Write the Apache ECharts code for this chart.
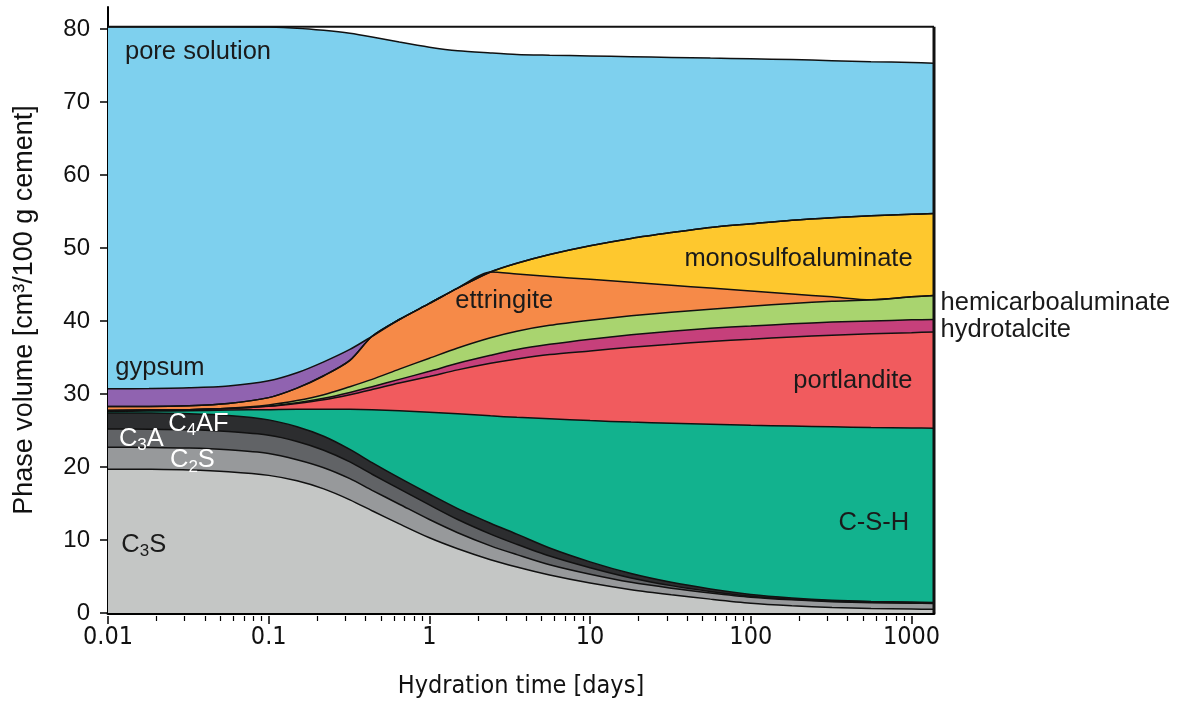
<!DOCTYPE html>
<html><head><meta charset="utf-8">
<script src="https://cdn.jsdelivr.net/npm/echarts@6/dist/echarts.min.js"></script>
<style>html,body{margin:0;padding:0;background:#fff}#c{width:1181px;height:704px}</style>
</head><body><div id="c"></div>
<script>
// ---- data (phase volumes, cm3/100 g cement) ----
const days = [0.01,0.018,0.032,0.056,0.1,0.15,0.22,0.32,0.44,0.65,1,1.5,2.4,3.5,5.6,10,18,32,56,100,180,320,560,1000,1380];
const C3S          = [19.7,19.68,19.6,19.35,18.85,18.1,17.0,15.5,14.0,12.2,10.3,8.8,7.3,6.3,5.2,4.1,3.2,2.5,1.9,1.35,1.0,0.75,0.62,0.55,0.5];
const C2S          = [3.0,3.0,3.0,3.0,3.0,2.9,2.9,2.9,2.8,2.7,2.5,2.2,1.9,1.7,1.4,1.2,1.0,0.9,0.85,0.82,0.8,0.8,0.8,0.8,0.8];
const C3A          = [2.5,2.5,2.5,2.5,2.5,2.5,2.4,2.3,2.2,2.1,2.0,1.8,1.6,1.4,1.2,0.9,0.6,0.35,0.2,0.12,0.08,0.06,0.05,0.05,0.05];
const C4AF         = [2.2,2.2,2.2,2.2,2.1,2.0,1.9,1.7,1.6,1.5,1.5,1.5,1.5,1.4,1.1,0.8,0.6,0.45,0.35,0.25,0.18,0.14,0.12,0.1,0.1];
const CSH          = [0.2,0.27,0.4,0.75,1.4,2.4,3.7,5.5,7.25,9.2,11.2,13.0,14.7,16.0,17.7,19.35,20.75,21.8,22.55,23.16,23.54,23.75,23.81,23.85,23.85];
const portlandite  = [0.15,0.15,0.15,0.2,0.45,0.8,1.3,2.0,2.75,3.8,4.9,6.0,7.2,8.0,8.8,9.55,10.25,10.8,11.35,11.8,12.2,12.55,12.85,13.05,13.2];
const hydrotalcite = [0,0,0,0,0.05,0.1,0.2,0.3,0.4,0.5,0.7,0.9,1.1,1.3,1.4,1.6,1.7,1.8,1.8,1.8,1.8,1.8,1.75,1.75,1.7];
const hemicarbo    = [0,0,0,0.05,0.15,0.3,0.5,0.8,1.0,1.4,1.8,2.1,2.4,2.5,2.6,2.6,2.6,2.6,2.6,2.7,2.8,2.85,2.9,3.15,3.3];
const ettringite   = [0.55,0.5,0.55,0.65,1.0,1.7,2.6,3.6,5.9,6.8,7.5,8.2,9.0,7.84,6.7,5.6,4.6,3.7,2.9,2.1,1.3,0.6,0,0,0];
const monosulfo    = [0,0,0,0,0,0,0,0,0,0,0,0,0,1.46,3.0,4.6,6.0,7.2,8.3,9.2,10.1,10.85,11.5,11.3,11.2];
const gypsum       = [2.4,2.45,2.45,2.4,2.3,2.1,1.9,1.5,0,0,0,0,0,0,0,0,0,0,0,0,0,0,0,0,0];
const poreSolution = [49.6,49.55,49.45,49.2,48.45,47.2,45.4,43.3,41.0,38.0,35.1,32.5,30.0,28.6,27.3,26.0,24.9,24.0,23.2,22.6,22.0,21.5,21.1,20.8,20.6];

const xMajorTicks = [0.01,0.1,1,10,100,1000];
const xTickLabels = ['0.01','0.1','1','10','100','1000'];
const yMajorTicks = [0,10,20,30,40,50,60,70,80];
const yMinorTicks = [5,15,25,35,45,55,65,75];

// phase labels: text ("_n" = subscript), day, volume
const labelText = ['pore solution','gypsum','C_4AF','C_3A','C_2S','C_3S','ettringite','monosulfoaluminate','portlandite','C-S-H','hemicarboaluminate','hydrotalcite'];
const labelDay  = [0.01276,0.0111,0.0237,0.0117,0.0243,0.0121,1.45,38.6,184,351,1517,1517];
const labelVol  = [76.9,33.5,25.9,23.9,20.9,9.3,42.7,48.5,31.8,12.3,42.5,38.8];
const labelWhite = [false,false,true,true,true,false,false,false,false,false,false,false];

// ---- styles ----
const phases = [
  {name:'C3S', data:C3S, color:'#c4c6c5'},
  {name:'C2S', data:C2S, color:'#97999b'},
  {name:'C3A', data:C3A, color:'#616366'},
  {name:'C4AF', data:C4AF, color:'#2c2d2f'},
  {name:'C-S-H', data:CSH, color:'#12b28e'},
  {name:'portlandite', data:portlandite, color:'#f15b5e'},
  {name:'hydrotalcite', data:hydrotalcite, color:'#c6407b'},
  {name:'hemicarboaluminate', data:hemicarbo, color:'#a9d46f'},
  {name:'ettringite', data:ettringite, color:'#f68a48'},
  {name:'monosulfoaluminate', data:monosulfo, color:'#fec82e'},
  {name:'gypsum', data:gypsum, color:'#9063b0'},
  {name:'pore solution', data:poreSolution, color:'#7ed0ee'}
];
const xMin = days[0], xMax = days[days.length-1];

// cumulative tops of each phase (stack built here)
const tops = [];
let acc = days.map(()=>0);
phases.forEach(p=>{ acc = acc.map((a,i)=>a+p.data[i]); tops.push(acc.slice()); });
const frameTop = tops[tops.length-1][0];

// x tick positions (decades + 2..9 minors)
const xMinorTicks = [];
xMajorTicks.forEach(m=>{ if (m < 1000) for (let k=2;k<=9;k++) xMinorTicks.push(+(m*k).toPrecision(3)); });
const lg = v => Math.log10(v);

const SM = 0.28;
const series = [];
for (let k=phases.length-1; k>=0; k--) {
  const p = phases[k];
  series.push({type:'line', name:p.name, smooth:SM, symbol:'none', silent:true,
    lineStyle:{width:0}, areaStyle:{color:p.color, opacity:1, origin:'start'}, itemStyle:{color:p.color},
    data: days.map((d,i)=>[d,tops[k][i]]), z:2});
}
phases.forEach((p,k)=>{
  series.push({type:'line', name:p.name+'_line', smooth:SM, symbol:'none', silent:true,
    lineStyle:{width:1.5, color:'#111'}, data: days.map((d,i)=>[d,tops[k][i]]), z:3});
});
series.push({type:'line', symbol:'none', silent:true, lineStyle:{width:2,color:'#111'}, z:4,
  data:[[xMin,frameTop],[xMax,frameTop]]});
series.push({type:'line', symbol:'none', silent:true, lineStyle:{width:3,color:'#111'}, z:4,
  data:[[xMax,0],[xMax,frameTop]]});

const axisFont = 'Liberation Sans, Arial, sans-serif';
const narrowFont = '"Liberation Sans Narrow", "Arial Narrow", "DejaVu Sans Condensed", sans-serif';
const G = {left:108, right:1181-934, top:7, bottom:88, containLabel:false};

const hiddenY = (gi)=>({type:'value', min:0, max:83, gridIndex:gi, show:false});
const tickX = (gi, vals, len, w)=>({type:'value', min:lg(xMin), max:lg(xMax), gridIndex:gi, position:'bottom',
  axisLine:{show:false}, axisLabel:{show:false}, splitLine:{show:false},
  axisTick:{show:true, length:len, lineStyle:{color:'#000', width:w}, customValues:vals.map(lg)}});

const option = {
  animation:false,
  backgroundColor:'#fff',
  grid:[G, Object.assign({}, G), Object.assign({}, G)],
  xAxis:[
    {type:'log', logBase:10, min:xMin, max:xMax, position:'bottom', gridIndex:0,
     axisLine:{lineStyle:{color:'#000', width:3}},
     axisTick:{show:false}, minorTick:{show:false},
     splitLine:{show:false}, minorSplitLine:{show:false},
     axisLabel:{customValues:xMajorTicks, margin:12, fontSize:25, fontFamily:narrowFont, color:'#111',
       formatter:(v)=>{const i=xMajorTicks.findIndex(m=>Math.abs(lg(m)-lg(v))<1e-6); return i>=0?xTickLabels[i]:'';}},
     name:'Hydration time [days]', nameLocation:'middle', nameGap:61,
     nameTextStyle:{fontSize:25, fontFamily:narrowFont, color:'#111'}},
    tickX(1, xMinorTicks, 5, 1.2),
    tickX(2, xMajorTicks, 8, 1.5)
  ],
  yAxis:[
    {type:'value', min:0, max:83, interval:10, position:'left', gridIndex:0,
     axisLine:{show:true, lineStyle:{color:'#000', width:2}},
     axisTick:{show:true, length:8, lineStyle:{color:'#000', width:1.5}, customValues:yMajorTicks},
     splitLine:{show:false},
     axisLabel:{customValues:yMajorTicks, margin:18, fontSize:24, fontFamily:axisFont, color:'#111'},
     name:'Phase volume [cm³/100 g cement]', nameLocation:'middle', nameGap:70, nameRotate:90,
     nameTextStyle:{fontSize:27, fontFamily:axisFont, color:'#111'}},
    {type:'value', min:0, max:83, position:'left', gridIndex:1,
     axisLine:{show:false}, axisLabel:{show:false}, splitLine:{show:false},
     axisTick:{show:true, length:4, lineStyle:{color:'#000', width:1.2}, customValues:yMinorTicks}},
    hiddenY(2)
  ],
  series: series
};

const chart = echarts.init(document.getElementById('c'), null, {renderer:'canvas'});
chart.setOption(option);

function richify(s){ return '{n|' + s.replace(/_(\d)/g, '}{s|$1}{n|') + '}'; }
const LF = 25.5;
const graphics = labelText.map((t,i)=>{
  const p = chart.convertToPixel({xAxisIndex:0, yAxisIndex:0}, [labelDay[i], labelVol[i]]);
  const col = labelWhite[i] ? '#ffffff' : '#1a1a1a';
  return {type:'text', x:p[0], y:p[1], z:10, silent:true,
    style:{text:richify(t), align:'left', verticalAlign:'middle',
      rich:{ n:{fontSize:LF, fontFamily:axisFont, fill:col, lineHeight:30},
             s:{fontSize:17, fontFamily:axisFont, fill:col, lineHeight:14, verticalAlign:'bottom'} }}};
});
chart.setOption({graphic:graphics});
</script></body></html>
